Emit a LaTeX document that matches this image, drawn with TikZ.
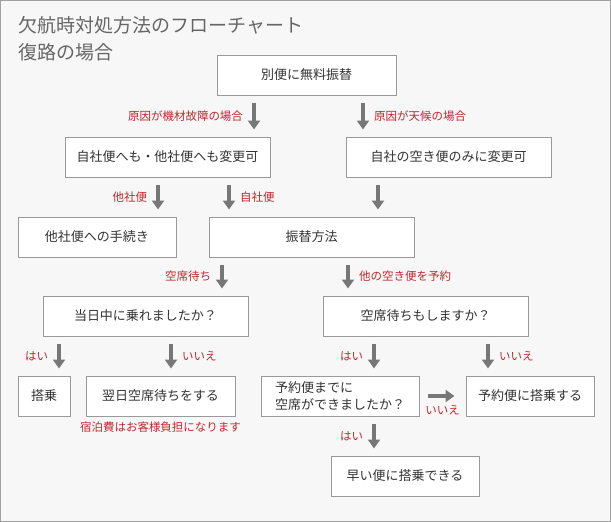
\documentclass[tikz,border=0pt]{standalone}
\usepackage{fontspec}
\setmainfont{Noto Sans CJK JP}
\usetikzlibrary{arrows.meta, positioning}
\definecolor{bgcol}{HTML}{F7F7F7}
\definecolor{framecol}{HTML}{A0A0A0}
\definecolor{boxcol}{HTML}{9A9A9A}
\definecolor{txtcol}{HTML}{333333}
\definecolor{arrcol}{HTML}{777777}
\definecolor{redcol}{HTML}{C1272D}
\definecolor{titlecol}{HTML}{666666}

\begin{document}
\begin{tikzpicture}[x=1pt, y=-1pt,
        box/.style={draw=boxcol, fill=white, line width=1pt, minimum height=40pt, inner sep=0pt, text=txtcol, font=\fontsize{13}{17}\selectfont},
        lbl/.style={text=redcol, inner sep=0pt, font=\fontsize{11.5}{14}\selectfont},
        title/.style={text=titlecol, inner sep=0pt, font=\fontsize{19}{26}\selectfont},
        arr/.style={draw=arrcol, line width=4pt, -{Triangle[width=12pt,length=9pt]}, shorten <=7pt, shorten >=7pt}]
            \useasboundingbox (0,0) rectangle (611,522);
            \fill[bgcol] (0,0) rectangle (611,522);
            \draw[framecol, line width=1pt] (0.5,0.5) rectangle (610.5,521.5);

            \node[title, anchor=base west] (title) at (18,32.5) {欠航時対処方法のフローチャート};
            \node[title, anchor=base west] (subtitle) at (18,59) {復路の場合};

            \node[box, minimum width=179pt] (furikae) at (306.5,75) {別便に無料振替};
            \node[box, minimum width=205pt] (ryoho) at (167.5,157) {自社便へも・他社便へも変更可};
            \node[box, minimum width=205pt] (jishanomi) at (448.5,157) {自社の空き便のみに変更可};
            \node[box, minimum width=158pt] (tasha) at (97,237) {他社便への手続き};
            \node[box, minimum width=205pt] (hoho) at (311.5,237) {振替方法};
            \node[box, minimum width=205pt] (tojitsu) at (145.5,316) {当日中に乗れましたか？};
            \node[box, minimum width=205pt] (kuseki) at (425.5,316) {空席待ちもしますか？};
            \node[box, minimum width=52pt] (tojo) at (44,396) {搭乗};
            \node[box, minimum width=149pt] (yokujitsu) at (160.5,396) {翌日空席待ちをする};
            \node[box, minimum width=158pt, align=left] (yoyakumade) at (340,396) {予約便までに\\空席ができましたか？};
            \node[box, minimum width=128pt] (yoyakubin) at (530,396) {予約便に搭乗する};
            \node[box, minimum width=148pt] (hayai) at (405,476) {早い便に搭乗できる};

            \node[lbl, below=5pt of yokujitsu] (shukuhaku) {宿泊費はお客様負担になります};

            \draw[arr] (furikae.south -| 254,0) -- (ryoho.north -| 254,0) node[lbl, midway, left=9pt] {原因が機材故障の場合};
            \draw[arr] (furikae.south -| 363,0) -- (jishanomi.north -| 363,0) node[lbl, midway, right=9pt] {原因が天候の場合};

            \draw[arr] (ryoho.south -| 158,0) -- (tasha.north -| 158,0) node[lbl, midway, left=9pt] {他社便};
            \draw[arr] (ryoho.south -| 229,0) -- (hoho.north -| 229,0) node[lbl, midway, right=9pt] {自社便};
            \draw[arr] (jishanomi.south -| 378,0) -- (hoho.north -| 378,0);

            \draw[arr] (hoho.south -| 222,0) -- (tojitsu.north -| 222,0) node[lbl, midway, left=9pt] {空席待ち};
            \draw[arr] (hoho.south -| 348,0) -- (kuseki.north -| 348,0) node[lbl, midway, right=9pt] {他の空き便を予約};

            \draw[arr] (tojitsu.south -| 59,0) -- (tojo.north -| 59,0) node[lbl, midway, left=9pt] {はい};
            \draw[arr] (tojitsu.south -| 171,0) -- (yokujitsu.north -| 171,0) node[lbl, midway, right=9pt] {いいえ};
            \draw[arr] (kuseki.south -| 374,0) -- (yoyakumade.north -| 374,0) node[lbl, midway, left=9pt] {はい};
            \draw[arr] (kuseki.south -| 488,0) -- (yoyakubin.north -| 488,0) node[lbl, midway, right=9pt] {いいえ};

            \draw[arr, shorten <=8pt, shorten >=11pt] (yoyakumade.east) -- (yoyakubin.west) node[lbl, midway, below=7pt] {いいえ};
            \draw[arr] (yoyakumade.south -| 374,0) -- (hayai.north -| 374,0) node[lbl, midway, left=9pt] {はい};
        \end{tikzpicture}
\end{document}
